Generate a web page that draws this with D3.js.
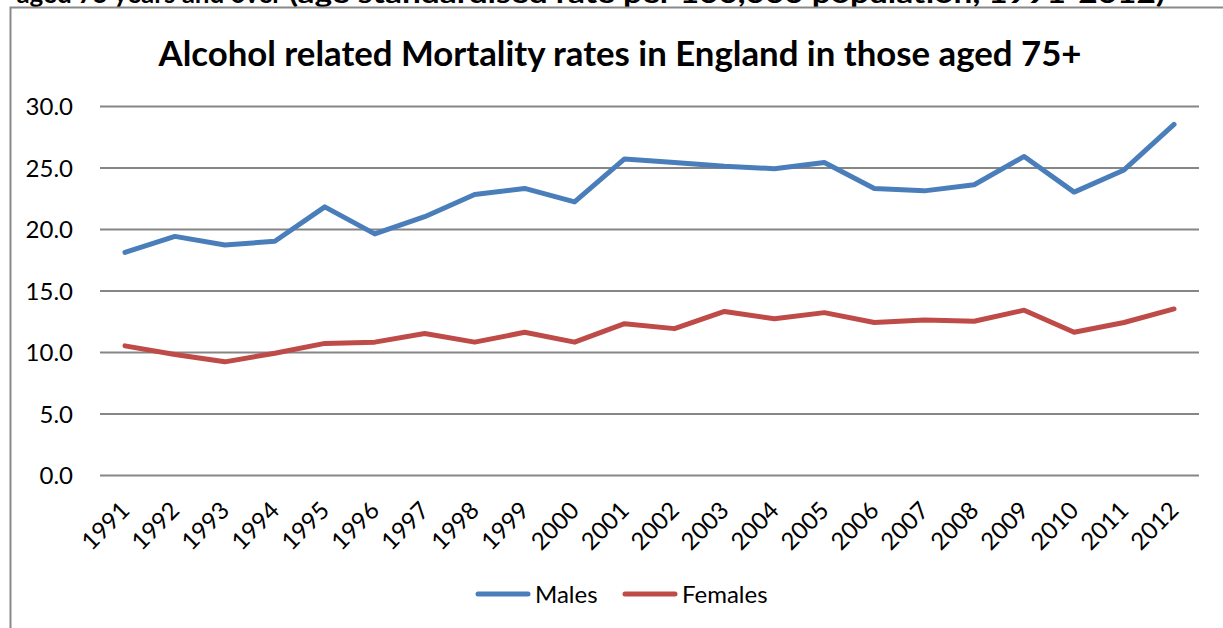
<!DOCTYPE html>
<html>
<head>
<meta charset="utf-8">
<script src="https://cdn.jsdelivr.net/npm/d3@7"></script>
<style>
  html, body { margin: 0; padding: 0; background: #fff; }
  svg { display: block; }
  text { font-family: Lato, "Open Sans", "Liberation Sans", sans-serif; fill: #000; }
</style>
</head>
<body>
<svg id="chart" width="1223" height="628"></svg>
<script>
const years = ["1991","1992","1993","1994","1995","1996","1997","1998","1999","2000","2001",
               "2002","2003","2004","2005","2006","2007","2008","2009","2010","2011","2012"];
const males   = [18.1,19.4,18.7,19.0,21.8,19.6,21.0,22.8,23.3,22.2,25.7,
                 25.4,25.1,24.9,25.4,23.3,23.1,23.6,25.9,23.0,24.8,28.5];
const females = [10.5,9.8,9.2,9.9,10.7,10.8,11.5,10.8,11.6,10.8,12.3,
                 11.9,13.3,12.7,13.2,12.4,12.6,12.5,13.4,11.6,12.4,13.5];
const yTicks = [0,5,10,15,20,25,30];
const seriesNames = ["Males","Females"];
const seriesColors = ["#4a7ebb","#be4b48"];
const titleText = "Alcohol related Mortality rates in England in those aged 75+";

const svg = d3.select("#chart");

// caption text of the surrounding document, clipped at the top edge as in the reference
svg.append("text").attr("x", 282).attr("y", 3).attr("text-anchor", "end")
  .style("font-weight", "bold").style("font-size", "26px")
  .text("aged 75 years and over");
svg.append("text").attr("x", 289).attr("y", 3)
  .style("font-weight", "bold").style("font-size", "26px")
  .attr("textLength", 876).attr("lengthAdjust", "spacingAndGlyphs")
  .text("(age standardised rate per 100,000 population, 1991-2012)");

// chart frame
svg.append("rect").attr("x", 10.5).attr("y", 7.5).attr("width", 1300).attr("height", 700)
  .attr("fill", "#fff").attr("stroke", "#898989").attr("stroke-width", 2);

const plot = { left: 100, right: 1199, top: 106, bottom: 475 };

const x = d3.scaleBand().domain(years).range([plot.left, plot.right]);
const y = d3.scaleLinear().domain([0, 30]).range([plot.bottom, plot.top]);

// title
const title = svg.append("text").attr("x", 620).attr("y", 66).attr("text-anchor", "middle")
  .style("font-weight", "bold").style("font-size", "28px").text(titleText);
const tw = title.node().getComputedTextLength();
title.style("font-size", (28 * 923 / tw).toFixed(2) + "px");

// gridlines + y labels
const yAxis = d3.axisLeft(y).tickValues(yTicks).tickSize(-(plot.right - plot.left))
  .tickPadding(27).tickFormat(d3.format(".1f"));
const gy = svg.append("g").attr("transform", `translate(${plot.left},0)`).call(yAxis);
gy.select(".domain").remove();
gy.selectAll(".tick line").attr("stroke", "#868686").attr("stroke-width", 2);
gy.selectAll(".tick text").style("font-size", "24px").attr("dy", "0.36em");

// x axis labels (rotated)
const xAxis = d3.axisBottom(x).tickSize(0).tickPadding(0);
const gx = svg.append("g").attr("transform", `translate(0,${plot.bottom})`).call(xAxis);
gx.select(".domain").remove();
gx.selectAll(".tick text")
  .style("font-size", "24px")
  .attr("text-anchor", "end")
  .attr("x", 0).attr("y", 0).attr("dy", 0)
  .attr("transform", "translate(6,37) rotate(-45)");

// lines
const line = d3.line().x((d, i) => x(years[i]) + x.bandwidth() / 2).y(d => y(d));
[males, females].forEach((vals, k) => {
  svg.append("path").datum(vals).attr("d", line)
    .attr("fill", "none").attr("stroke", seriesColors[k]).attr("stroke-width", 5)
    .attr("stroke-linejoin", "round").attr("stroke-linecap", "round");
});

// legend
const legendItems = [{ x: 478, tx: 535 }, { x: 625, tx: 682 }];
seriesNames.forEach((name, k) => {
  const g = svg.append("g");
  g.append("line").attr("x1", legendItems[k].x).attr("x2", legendItems[k].x + 50)
    .attr("y1", 594).attr("y2", 594)
    .attr("stroke", seriesColors[k]).attr("stroke-width", 5).attr("stroke-linecap", "round");
  g.append("text").attr("x", legendItems[k].tx).attr("y", 594).attr("dy", "0.36em")
    .style("font-size", "24px").text(name);
});
</script>
</body>
</html>
